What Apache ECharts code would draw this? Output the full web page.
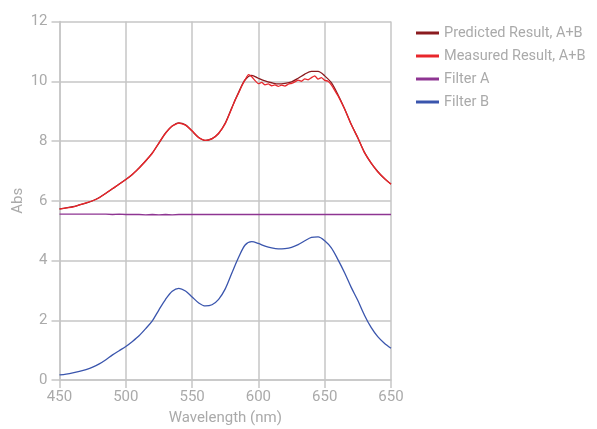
<!DOCTYPE html>
<html>
<head>
<meta charset="utf-8">
<script src="https://cdn.jsdelivr.net/npm/echarts@6/dist/echarts.min.js"></script>
<style>
  html, body { margin: 0; padding: 0; background: #fff; }
  #main { width: 597px; height: 429px; }
</style>
</head>
<body>
<div id="main"></div>
<script>
// wavelengths (nm), 5 nm steps
var wavelengths = [450, 455, 460, 465, 470, 475, 480, 485, 490, 495, 500, 505, 510, 515, 520, 525,
    530, 535, 540, 545, 550, 555, 560, 565, 570, 575, 580, 585, 590, 595, 600, 605, 610, 615, 620,
    625, 630, 635, 640, 645, 650, 655, 660, 665, 670, 675, 680, 685, 690, 695, 700];

var predicted = [5.73, 5.76, 5.80, 5.86, 5.92, 6.00, 6.11, 6.25, 6.40, 6.56, 6.71, 6.88, 7.10, 7.33,
    7.60, 7.93, 8.27, 8.50, 8.61, 8.54, 8.33, 8.12, 8.02, 8.08, 8.25, 8.60, 9.12, 9.62, 10.05, 10.20,
    10.10, 10.01, 9.95, 9.91, 9.93, 9.98, 10.10, 10.24, 10.33, 10.33, 10.18, 9.95, 9.55, 9.08, 8.56,
    8.10, 7.62, 7.26, 6.98, 6.74, 6.56];

var filterA = [5.55, 5.55, 5.55, 5.55, 5.55, 5.55, 5.55, 5.55, 5.54, 5.55, 5.54, 5.54, 5.54, 5.53,
    5.54, 5.53, 5.54, 5.53, 5.54, 5.54, 5.54, 5.54, 5.54, 5.54, 5.54, 5.54, 5.54, 5.54, 5.54, 5.54,
    5.54, 5.54, 5.54, 5.54, 5.54, 5.54, 5.54, 5.54, 5.54, 5.54, 5.54, 5.54, 5.54, 5.54, 5.54, 5.54,
    5.54, 5.54, 5.54, 5.54, 5.54];

var filterB = [0.17, 0.20, 0.24, 0.29, 0.35, 0.43, 0.54, 0.68, 0.84, 0.98, 1.12, 1.29, 1.48, 1.72,
    1.98, 2.35, 2.70, 2.97, 3.07, 2.98, 2.78, 2.58, 2.48, 2.52, 2.70, 3.05, 3.58, 4.10, 4.52, 4.63,
    4.57, 4.48, 4.42, 4.39, 4.40, 4.44, 4.53, 4.66, 4.77, 4.79, 4.66, 4.42, 4.03, 3.59, 3.10, 2.66,
    2.17, 1.76, 1.45, 1.23, 1.06];

// measured curve is sampled finer through the noisy plateau
var measuredWl = [450, 455, 460, 465, 470, 475, 480, 485, 490, 495, 500, 505, 510, 515, 520, 525,
    530, 535, 540, 545, 550, 555, 560, 565, 570, 575, 580, 582.5, 585, 587.5, 590, 592.5, 595, 597.5,
    600, 602.5, 605, 607.5, 610, 612.5, 615, 617.5, 620, 622.5, 625, 627.5, 630, 632.5, 635, 637.5,
    640, 642.5, 645, 647.5, 650, 652.5, 655, 657.5, 660, 665, 670, 675, 680, 685, 690, 695, 700];
var measured = [5.72, 5.76, 5.79, 5.86, 5.93, 6.00, 6.10, 6.25, 6.41, 6.55, 6.71, 6.89, 7.09, 7.34,
    7.59, 7.94, 8.26, 8.50, 8.60, 8.53, 8.34, 8.11, 8.02, 8.07, 8.26, 8.58, 9.10, 9.38, 9.60, 9.85,
    10.05, 10.22, 10.15, 10.02, 9.92, 9.96, 9.88, 9.91, 9.85, 9.88, 9.83, 9.87, 9.84, 9.90, 9.93,
    9.98, 10.04, 10.00, 10.08, 10.05, 10.12, 10.18, 10.07, 10.12, 10.03, 10.00, 9.88, 9.70, 9.52,
    9.07, 8.55, 8.11, 7.61, 7.27, 6.97, 6.75, 6.55];

var xTickLabels = ['450', '500', '550', '600', '650', '650'];

var names = ['Predicted Result, A+B', 'Measured Result, A+B', 'Filter A', 'Filter B'];
var colors = ['#8b1b1f', '#e8262b', '#8e3592', '#3a55ad'];

function pairs(xs, ys) {
    var out = [];
    for (var i = 0; i < xs.length; i++) out.push([xs[i], ys[i]]);
    return out;
}

var gridColor = '#c6c6c6';
var textColor = '#aaaaaa';
var font = 'Roboto';

function lineSeries(i, data, smooth) {
    return {
        name: names[i],
        type: 'line',
        data: data,
        smooth: smooth,
        showSymbol: false,
        symbol: 'none',
        lineStyle: { color: colors[i], width: 1.3 },
        itemStyle: { color: colors[i] },
        animation: false
    };
}

var chart = echarts.init(document.getElementById('main'));
chart.setOption({
    animation: false,
    color: colors,
    grid: { left: 59.5, right: 206, top: 21.5, bottom: 49, outerBoundsMode: 'none' },
    legend: {
        orient: 'vertical',
        left: 416,
        top: 25.5,
        padding: 0,
        icon: 'rect',
        itemWidth: 23,
        itemHeight: 3,
        itemGap: 8,
        textStyle: { color: textColor, fontSize: 14.5, fontFamily: font },
        data: names
    },
    xAxis: {
        type: 'value',
        min: 450,
        max: 700,
        interval: 50,
        name: 'Wavelength (nm)',
        nameLocation: 'middle',
        nameGap: 31,
        nameTextStyle: { color: textColor, fontSize: 15, fontFamily: font },
        axisLine: { show: true, lineStyle: { color: gridColor, width: 1.5 } },
        axisTick: { show: true, length: 8, lineStyle: { color: gridColor, width: 1.5 } },
        splitLine: { show: true, lineStyle: { color: gridColor, width: 1.5 } },
        axisLabel: {
            color: textColor, fontSize: 15, fontFamily: font, margin: 10,
            formatter: function (v) { return xTickLabels[Math.round((v - 450) / 50)]; }
        }
    },
    yAxis: {
        type: 'value',
        min: 0,
        max: 12,
        interval: 2,
        name: 'Abs',
        nameLocation: 'middle',
        nameGap: 34,
        nameMoveOverlap: false,
        nameTextStyle: { color: textColor, fontSize: 15, fontFamily: font },
        axisLine: { show: true, lineStyle: { color: gridColor, width: 1.5 } },
        axisTick: { show: true, length: 8, lineStyle: { color: gridColor, width: 1.5 } },
        splitLine: { show: true, lineStyle: { color: gridColor, width: 1.5 } },
        axisLabel: { color: textColor, fontSize: 15, fontFamily: font, margin: 12 }
    },
    series: [
        lineSeries(0, pairs(wavelengths, predicted), 0.3),
        lineSeries(1, pairs(measuredWl, measured), 0.15),
        lineSeries(2, pairs(wavelengths, filterA), false),
        lineSeries(3, pairs(wavelengths, filterB), 0.3)
    ]
});
</script>
</body>
</html>
